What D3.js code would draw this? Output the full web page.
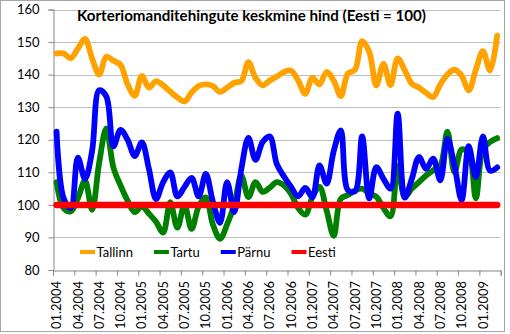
<!DOCTYPE html>
<html>
<head>
<meta charset="utf-8">
<script src="https://cdn.jsdelivr.net/npm/d3@7/dist/d3.min.js"></script>
<style>
  html, body { margin: 0; padding: 0; background: #fff; }
  svg { display: block; }
  text { font-family: Lato, "Open Sans", sans-serif; fill: #000; }
</style>
</head>
<body>
<svg id="chart" width="510" height="334"></svg>
<script>
// Monthly categories, 01.2004 – 03.2009
const months = [
  "01.2004","02.2004","03.2004","04.2004","05.2004","06.2004","07.2004","08.2004","09.2004","10.2004","11.2004","12.2004",
  "01.2005","02.2005","03.2005","04.2005","05.2005","06.2005","07.2005","08.2005","09.2005","10.2005","11.2005","12.2005",
  "01.2006","02.2006","03.2006","04.2006","05.2006","06.2006","07.2006","08.2006","09.2006","10.2006","11.2006","12.2006",
  "01.2007","02.2007","03.2007","04.2007","05.2007","06.2007","07.2007","08.2007","09.2007","10.2007","11.2007","12.2007",
  "01.2008","02.2008","03.2008","04.2008","05.2008","06.2008","07.2008","08.2008","09.2008","10.2008","11.2008","12.2008",
  "01.2009","02.2009","03.2009"
];

// Labelled months on the category axis (every third month)
const tickLabels = [
  "01.2004","04.2004","07.2004","10.2004","01.2005","04.2005","07.2005","10.2005",
  "01.2006","04.2006","07.2006","10.2006","01.2007","04.2007","07.2007","10.2007",
  "01.2008","04.2008","07.2008","10.2008","01.2009"
];

const yTicks = [80, 90, 100, 110, 120, 130, 140, 150, 160];

// Average apartment price index by city (Eesti = 100)
const tallinn = [
  146.5,146.5,145,148,151,145,140,145.5,144.3,143,
  137,133.5,139.6,136,138,136.7,134.8,133,131.8,134.5,
  136.5,137,136.5,134.7,136,137.5,138,143.8,139,136.7,
  138.2,139.4,140.8,141.2,138.2,134.1,139,137,140.8,138.2,
  133.4,140.3,141.5,150.3,147,136.7,143.3,136.8,145,141.3,
  137.2,136,134.4,133.1,137,140,141.5,139.7,135.2,141.5,
  147.2,141.3,152
];
const tartu = [
  107,99,98,102,107.5,98.5,113,123.5,111.5,106,
  101.3,97.8,99.5,97.3,94.8,91.5,100.8,93,100,92.6,
  99.5,102.3,94,89.6,94,100,109,102.4,107,104,
  105.3,107,106,103.4,99,97,102.4,105.5,98.3,90.5,
  101.9,103,104.4,105,103.5,102.5,99,96.5,112,102.5,
  105,107,109,110.6,112,122.5,110,117,116,102,
  117,119.3,120.5
];
const parnu = [
  122.5,102,99,114.5,108,116.5,135.2,133.3,118,123,
  120,115,119.2,111,101.8,107,110,102.6,105.5,108.3,
  102.6,109.5,101,94.5,107,97.8,111,120.6,113.8,119.3,
  121,112.5,108.7,105.5,102.6,105.2,102.4,112.1,106.5,116.5,
  122.9,104.5,104.2,121,102,111.6,108,105,128,102.2,
  108,114.7,111.1,114.2,107.5,120.3,112,101.5,118,108.5,
  121,110.5,111.5
];
const eesti = [
  100,100,100,100,100,100,100,100,100,100,
  100,100,100,100,100,100,100,100,100,100,
  100,100,100,100,100,100,100,100,100,100,
  100,100,100,100,100,100,100,100,100,100,
  100,100,100,100,100,100,100,100,100,100,
  100,100,100,100,100,100,100,100,100,100,
  100,100,100
];

const seriesNames = ["Tallinn", "Tartu", "Pärnu", "Eesti"];
const seriesValues = [tallinn, tartu, parnu, eesti];
const seriesColors = ["#FFA200", "#008000", "#0000FF", "#FF0000"];

const titleText = "Korteriomanditehingute keskmine hind (Eesti = 100)";

const plot = { left: 53, right: 500.7, top: 9.5, bottom: 270 };
const svg = d3.select("#chart");

// Chart area frame
svg.append("rect")
  .attr("x", 0.5).attr("y", 0.5)
  .attr("width", 504).attr("height", 331)
  .attr("fill", "#fff")
  .attr("stroke", "#A6A6A6");

const x = d3.scaleBand().domain(months).range([plot.left, plot.right]).padding(0);
const xEdge = d3.scaleLinear().domain([0, months.length]).range([plot.left, plot.right]);
const y = d3.scaleLinear().domain([80, 160]).range([plot.bottom, plot.top]);
const cx = m => x(m) + x.bandwidth() / 2;

// Horizontal gridlines
svg.append("g")
  .selectAll("line")
  .data(yTicks.filter(v => v > 80))
  .join("line")
  .attr("x1", plot.left).attr("x2", plot.right)
  .attr("y1", d => Math.round(y(d)) + 0.5)
  .attr("y2", d => Math.round(y(d)) + 0.5)
  .attr("stroke", "#BFBFBF")
  .attr("stroke-width", 1);

// Value axis
const yAxis = svg.append("g")
  .attr("transform", `translate(${plot.left + 0.5},0)`)
  .call(d3.axisLeft(y).tickValues(yTicks).tickSize(5).tickPadding(9));
yAxis.select(".domain").attr("stroke", "#868686");
yAxis.selectAll(".tick line").attr("stroke", "#868686");
yAxis.selectAll("text")
  .attr("font-family", "Lato, sans-serif")
  .attr("font-size", 13)
  .attr("fill", "#000");

// Category axis: tick marks on month boundaries every quarter
const edgeTicks = d3.range(0, months.length + 1, 3);
const xTickAxis = svg.append("g")
  .attr("transform", `translate(0,${Math.round(plot.bottom) + 0.5})`)
  .call(d3.axisBottom(xEdge).tickValues(edgeTicks).tickSize(5).tickFormat(""));
xTickAxis.select(".domain").attr("stroke", "#868686");
xTickAxis.selectAll(".tick line").attr("stroke", "#868686");

// Category labels, rotated
const xLabelAxis = svg.append("g")
  .attr("transform", `translate(0,${Math.round(plot.bottom)})`)
  .call(d3.axisBottom(x).tickValues(tickLabels).tickSize(0));
xLabelAxis.select(".domain").remove();
xLabelAxis.selectAll("text")
  .attr("font-family", "Lato, sans-serif")
  .attr("font-size", 12.9)
  .attr("fill", "#000")
  .attr("transform", "rotate(-90)")
  .attr("text-anchor", "end")
  .attr("x", -11)
  .attr("y", 0)
  .attr("dy", "0.36em");

// Smoothed series lines
const line = d3.line()
  .x((d, i) => cx(months[i]))
  .y(d => y(d))
  .curve(d3.curveCatmullRom.alpha(0.5));

svg.append("g")
  .selectAll("path")
  .data(seriesValues)
  .join("path")
  .attr("d", d => line(d))
  .attr("fill", "none")
  .attr("stroke", (d, i) => seriesColors[i])
  .attr("stroke-width", (d, i) => i === 3 ? 6.5 : 5.8)
  .attr("stroke-linejoin", "round")
  .attr("stroke-linecap", "round");

// Title
svg.append("text")
  .attr("x", 77)
  .attr("y", 21)
  .attr("font-family", "Lato, sans-serif")
  .attr("font-weight", "bold")
  .attr("font-size", 15.1)
  .text(titleText);

// Legend
const legend = svg.append("g").attr("transform", "translate(80,252)");
let lx = 0;
seriesNames.forEach((name, i) => {
  const g = legend.append("g").attr("transform", `translate(${lx},0)`);
  g.append("line")
    .attr("x1", 0).attr("x2", 15)
    .attr("y1", 0).attr("y2", 0)
    .attr("stroke", seriesColors[i])
    .attr("stroke-width", 4);
  const t = g.append("text")
    .attr("x", 16.5)
    .attr("y", 0)
    .attr("dy", "0.35em")
    .attr("font-family", "Lato, sans-serif")
    .attr("font-size", 13)
    .text(name);
  lx += 16.5 + t.node().getComputedTextLength() + 21;
});
</script>
</body>
</html>
